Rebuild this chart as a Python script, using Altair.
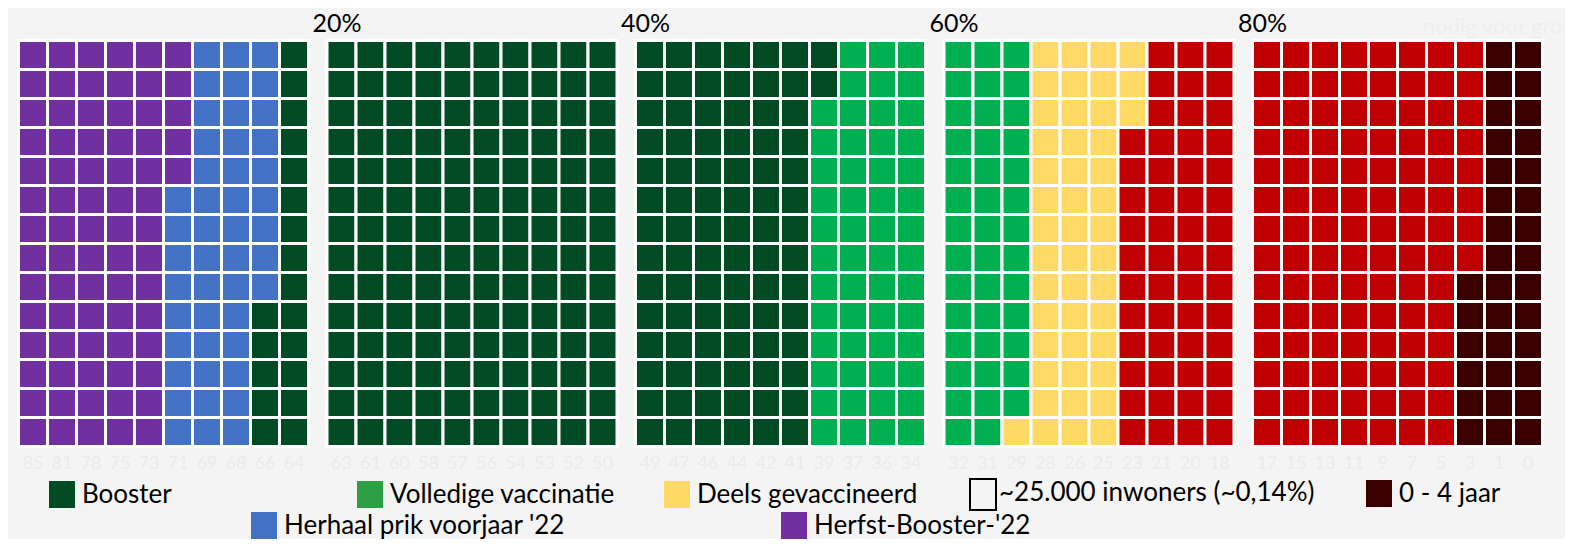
import altair as alt
import pandas as pd

# ---- data ----
categories = ["Herfst-Booster-'22", "Herhaal prik voorjaar '22", "Booster",
              "Volledige vaccinatie", "Deels gevaccineerd", "Niet gevaccineerd", "0 - 4 jaar"]
cell_counts = [75, 46, 245, 95, 46, 159, 34]          # number of cells (~25.000 inwoners each)
cell_colors = ["#7030a0", "#4472c4", "#004b23", "#00b050", "#fed966", "#c00000", "#3a0000"]

ages = [85, 81, 78, 75, 73, 71, 69, 68, 66, 64,
        63, 61, 60, 58, 57, 56, 54, 53, 52, 50,
        49, 47, 46, 44, 42, 41, 39, 37, 36, 34,
        32, 31, 29, 28, 26, 25, 23, 21, 20, 18,
        17, 15, 13, 11, 9, 7, 5, 3, 1, 0]
pct_labels = ["20%", "40%", "60%", "80%"]

legend_labels = ["Booster", "Volledige vaccinatie", "Deels gevaccineerd",
                 "~25.000 inwoners (~0,14%)", "0 - 4 jaar",
                 "Herhaal prik voorjaar '22", "Herfst-Booster-'22"]
legend_colors = ["#004b23", "#2ea043", "#fed966", "#f4f4f4", "#3a0000", "#4472c4", "#7030a0"]

# ---- layout ----
N_ROWS = 14
GAP = 0.638   # extra space between groups of 10 columns (in column units)
BG = "#f4f4f4"
FONT = "Lato"
W, H = 1557, 531
PITCH = 29.0
X0, Y0 = 10.5, 32.5   # pixel offset of the first cell

xdom = [-X0 / PITCH, (W - X0) / PITCH]
ydom = [-Y0 / PITCH, (H - Y0) / PITCH]

# build the waffle cells: column-major, top to bottom
cells = []
seq = []
for cat, n in zip(categories, cell_counts):
    seq += [cat] * n
for i, cat in enumerate(seq):
    col, row = divmod(i, N_ROWS)
    xs = col + GAP * (col // 10)
    cells.append({"cat": cat, "x": xs, "x2": xs + 1, "y": row, "y2": row + 1})
cells_df = pd.DataFrame(cells)

xs_scale = alt.Scale(domain=xdom, nice=False, zero=False)
ys_scale = alt.Scale(domain=ydom, nice=False, zero=False, reverse=True)

waffle = alt.Chart(cells_df).mark_rect(stroke="white", strokeWidth=3).encode(
    x=alt.X("x:Q", scale=xs_scale, axis=None),
    x2="x2:Q",
    y=alt.Y("y:Q", scale=ys_scale, axis=None),
    y2="y2:Q",
    color=alt.Color("cat:N", scale=alt.Scale(domain=categories, range=cell_colors), legend=None),
)

age_df = pd.DataFrame({"age": [str(a) for a in ages]})
age_df["x"] = [c + 0.5 + GAP * (c // 10) for c in range(len(ages))]
age_text = alt.Chart(age_df).mark_text(font=FONT, fontSize=18, color="#ebebeb", baseline="middle").encode(
    x=alt.X("x:Q", scale=xs_scale, axis=None),
    y=alt.YDatum(14.6),
    text="age:N",
)

pct_df = pd.DataFrame({"label": pct_labels})
pct_df["x"] = [10 * (k + 1) + GAP * (k + 1) - 0.5 for k in range(len(pct_labels))]
pct_text = alt.Chart(pct_df).mark_text(font=FONT, fontSize=25, color="black", align="left",
                                       baseline="alphabetic").encode(
    x=alt.X("x:Q", scale=xs_scale, axis=None),
    y=alt.YDatum(-0.3),
    text="label:N",
)

one = pd.DataFrame({"a": [0]})
watermark = alt.Chart(one).mark_text(font=FONT, fontSize=22, color="#eeeeee", align="left",
                                     baseline="middle").encode(
    x=alt.value(1415), y=alt.value(19), text=alt.value("nodig voor groepsimmuniteit"))

# legend (manual, two staggered rows as in the original)
leg_pos = [(41, 473), (349, 473), (656, 473), (962, 471), (1358, 472), (243, 504), (773, 504)]
legend_layers = []
for (lx, ly), lab, colr in zip(leg_pos, legend_labels, legend_colors):
    box_w = 26
    is_box = lab.startswith("~")
    legend_layers.append(
        alt.Chart(one).mark_rect(fill=colr, stroke="black" if is_box else colr,
                                 strokeWidth=2 if is_box else 0).encode(
            x=alt.value(lx), x2=alt.value(lx + box_w),
            y=alt.value(ly), y2=alt.value(ly + (31 if is_box else 27)))
    )
    legend_layers.append(
        alt.Chart(one).mark_text(font=FONT, fontSize=26, color="black", align="left",
                                 baseline="middle").encode(
            x=alt.value(lx + box_w + 7 if not is_box else lx + box_w + 3),
            y=alt.value(ly + 14), text=alt.value(lab))
    )

chart = alt.layer(waffle, age_text, pct_text, watermark, *legend_layers).properties(
    width=W, height=H,
    autosize=alt.AutoSizeParams(type="none"),
    padding=0,
    background=BG,
).configure_view(stroke=None)

chart.save("out.html", embed_options={"renderer": "svg", "actions": False})
